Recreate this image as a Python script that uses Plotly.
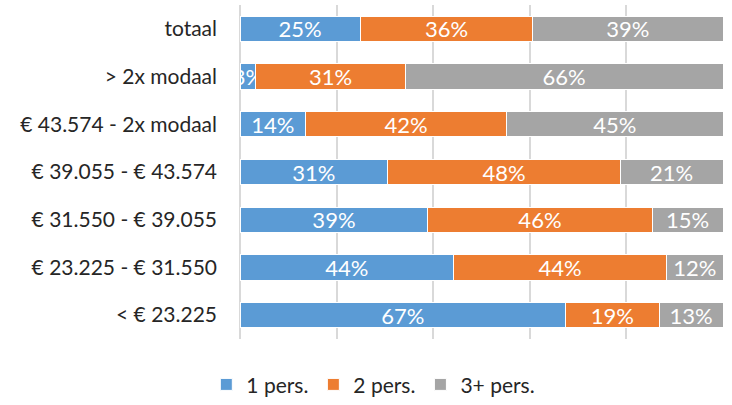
import plotly.graph_objects as go

categories = ["totaal", "> 2x modaal", "€ 43.574 - 2x modaal", "€ 39.055 - € 43.574",
              "€ 31.550 - € 39.055", "€ 23.225 - € 31.550", "< € 23.225"]
one_pers = [24.9, 3.3, 13.6, 30.6, 38.9, 44.2, 67.4]
two_pers = [35.7, 30.9, 41.6, 48.1, 46.4, 44.1, 19.4]
three_pers = [39.4, 65.8, 44.8, 21.3, 14.7, 11.7, 13.2]
series_names = ["1 pers.", "2 pers.", "3+ pers."]
colors = ["#5b9bd5", "#ed7d31", "#a5a5a5"]

FONT = "Lato"
fig = go.Figure()
for name, vals, col in zip(series_names, [one_pers, two_pers, three_pers], colors):
    fig.add_trace(go.Bar(
        y=categories, x=vals, name=name, orientation="h",
        marker=dict(color=col, line=dict(color="white", width=1)),
        texttemplate="%{x:.0f}%", textposition="inside", insidetextanchor="middle",
        textangle=0,
        textfont=dict(color="white", size=22, family=FONT),
        cliponaxis=True,
    ))

fig.update_layout(
    barmode="stack", bargap=0.47,
    width=732, height=405,
    margin=dict(l=240, r=9, t=5, b=66, autoexpand=False),
    paper_bgcolor="white", plot_bgcolor="white",
    font=dict(family=FONT, size=21, color="#262626"),
    uniformtext=dict(minsize=22, mode="show"),
    xaxis=dict(range=[0, 100], dtick=20, showgrid=True, gridcolor="#d9d9d9", gridwidth=1.5,
               showticklabels=False, zeroline=True, zerolinecolor="#d9d9d9", zerolinewidth=1.5,
               showline=False, automargin=False),
    yaxis=dict(autorange="reversed", showgrid=False, ticklabelstandoff=22, automargin=False,
               tickfont=dict(size=21, family=FONT, color="#262626")),
    legend=dict(orientation="h", xref="container", yref="container", x=0.51, y=0.05,
                xanchor="center", yanchor="middle", font=dict(size=21, family=FONT, color="#262626"),
                itemwidth=30, traceorder="normal"),
)
fig.write_html("out.html", config={"displayModeBar": False},
               post_script="document.body.style.margin='0';")
